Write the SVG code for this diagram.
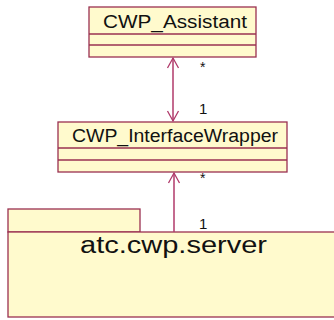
<svg xmlns="http://www.w3.org/2000/svg" width="334" height="320" viewBox="0 0 334 320">
<defs>
<style>
.box{fill:#FFFACD;stroke:#9A3050;stroke-width:1.3}
.sep{stroke:#9A3050;stroke-width:1.3}
.t{font-family:"Liberation Sans",Arial,sans-serif;fill:#111111}
.conn{stroke:#B03A6A;stroke-width:1.5;fill:none}
.head{stroke:#B03A6A;stroke-width:1.3;fill:none}
</style>
</defs>
<rect width="334" height="320" fill="#ffffff"/>
<g id="package">
<rect x="8" y="209" width="132" height="23" class="box" stroke="#8B3030"/>
<rect x="8" y="232" width="330" height="85" class="box" stroke="#8B3030"/>
<text x="80" y="253" class="t" font-size="23" textLength="187" lengthAdjust="spacingAndGlyphs">atc.cwp.server</text>
</g>
<g id="CWP_Assistant">
<rect x="89" y="7" width="167" height="50" class="box"/>
<line x1="89" y1="34" x2="256" y2="34" class="sep"/>
<line x1="89" y1="45" x2="256" y2="45" class="sep"/>
<text x="103" y="28" class="t" font-size="18" textLength="144" lengthAdjust="spacingAndGlyphs">CWP_Assistant</text>
</g>
<g id="CWP_InterfaceWrapper">
<rect x="58" y="122" width="229" height="50" class="box"/>
<line x1="58" y1="148" x2="287" y2="148" class="sep"/>
<line x1="58" y1="160" x2="287" y2="160" class="sep"/>
<text x="72" y="142" class="t" font-size="18" textLength="206" lengthAdjust="spacingAndGlyphs">CWP_InterfaceWrapper</text>
</g>
<g id="connectors">
<line x1="173" y1="58" x2="173" y2="121" class="conn"/>
<polyline points="167.5,68 173,58 178.5,68" class="head"/>
<polyline points="167.5,111 173,121 178.5,111" class="head"/>
<text x="200" y="72" class="t" font-size="14">*</text>
<text x="199" y="114" class="t" font-size="15">1</text>
<line x1="174" y1="173" x2="174" y2="232" class="conn"/>
<polyline points="168.5,183 174,173 179.5,183" class="head"/>
<text x="200" y="183" class="t" font-size="14">*</text>
<text x="199" y="229" class="t" font-size="15">1</text>
</g>
</svg>
